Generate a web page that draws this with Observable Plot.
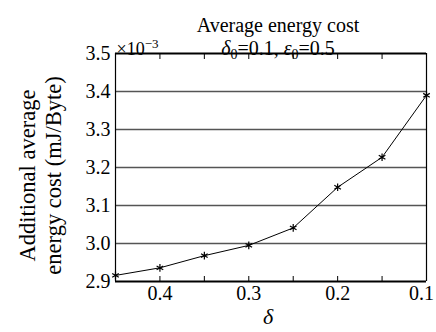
<!DOCTYPE html>
<html>
<head>
<meta charset="utf-8">
<script src="https://cdn.jsdelivr.net/npm/d3@7"></script>
<script src="https://cdn.jsdelivr.net/npm/@observablehq/plot@0.6"></script>
<style>
  html, body { margin: 0; padding: 0; background: #fff; }
</style>
</head>
<body>
<div id="chart"></div>
<script>
const delta = [0.45, 0.4, 0.35, 0.3, 0.25, 0.2, 0.15, 0.1];
const cost = [2.916, 2.936, 2.968, 2.995, 3.041, 3.148, 3.227, 3.39];
const yTicks = [2.9, 3.0, 3.1, 3.2, 3.3, 3.4, 3.5];
const xLabelTicks = [0.4, 0.3, 0.2];
const xLastTick = [0.1];
const xMinorTicks = [0.45, 0.4, 0.35, 0.3, 0.25, 0.2, 0.15, 0.1];
const titleLine1 = "Average energy cost";
const titleLine2 = "δ0=0.1, ε0=0.5";
const yLabel = "Additional average\nenergy cost (mJ/Byte)";
const xLabel = "δ";
const scaleNote = "×10-3";

const data = delta.map((d, i) => ({delta: d, cost: cost[i]}));
const FF = "Liberation Serif";

const chart = Plot.plot({
  width: 436,
  height: 332,
  marginLeft: 115,
  marginRight: 10,
  marginTop: 53,
  marginBottom: 51,
  style: {fontFamily: FF, fontSize: "20px", background: "#fff", color: "#000"},
  x: {domain: [0.45, 0.1]},
  y: {domain: [2.9, 3.5]},
  marks: [
    Plot.ruleY(yTicks.slice(1, -1), {stroke: "#555", strokeWidth: 1.5}),
    Plot.axisY({ticks: yTicks, tickFormat: d3.format(".1f"), tickSize: 0, tickPadding: 5, label: null, fontFamily: FF}),
    Plot.axisX({ticks: xLabelTicks, tickFormat: d3.format(".1f"), tickSize: 0, tickPadding: 4, label: null, fontFamily: FF}),
    Plot.axisX({ticks: xLastTick, tickFormat: d3.format(".1f"), tickSize: 0, tickPadding: 4, label: null, fontFamily: FF, dx: -5}),
    Plot.axisX({anchor: "bottom", ticks: xMinorTicks, tickSize: -5, tickFormat: () => "", label: null, stroke: "#000"}),
    Plot.axisX({anchor: "top", ticks: xMinorTicks, tickSize: -5, tickFormat: () => "", label: null, stroke: "#000"}),
    Plot.ruleY([2.9], {stroke: "#000", strokeWidth: 2}),
    Plot.ruleY([3.5], {stroke: "#000", strokeWidth: 2}),
    Plot.ruleX([0.45, 0.1], {stroke: "#000", strokeWidth: 1.2}),
    Plot.line(data, {x: "delta", y: "cost", stroke: "#000", strokeWidth: 1}),
    Plot.dot(data, {x: "delta", y: "cost", symbol: "asterisk", r: 3.6, stroke: "#000", strokeWidth: 1.2}),
    Plot.text([titleLine1], {frameAnchor: "top", dx: 7, dy: -36, fontSize: 20, fontFamily: FF, className: "t1"}),
    Plot.text([titleLine2], {frameAnchor: "top", dx: 7, dy: -13, fontSize: 20, fontFamily: FF, className: "t2"}),
    Plot.text([scaleNote], {frameAnchor: "top-left", textAnchor: "start", dx: 1, dy: -11, fontSize: 18, fontFamily: FF, className: "sn"}),
    Plot.text([yLabel], {frameAnchor: "left", textAnchor: "middle", lineAnchor: "middle", rotate: -90, dx: -76, dy: 8, fontSize: 22.5, lineHeight: 1.15, fontFamily: FF}),
    Plot.text([xLabel], {frameAnchor: "bottom", dx: -3, dy: 42, fontSize: 22, fontStyle: "italic", fontFamily: FF})
  ]
});
document.getElementById("chart").appendChild(chart);

const svg = d3.select(chart);
svg.attr("font-family", FF);
svg.selectAll("text").attr("font-family", FF);

// Rich formatting: italics, subscripts, superscript
const t2 = svg.select(".t2 text");
if (!t2.empty()) {
  t2.text("");
  const parts = [["δ", "i", 0], ["0", "sub", 4], ["=0.1, ", "", -4], ["ε", "i", 0], ["0", "sub", 4], ["=0.5", "", -4]];
  for (const [s, k, dy] of parts) {
    const ts = t2.append("tspan").text(s);
    if (k === "i") ts.attr("font-style", "italic");
    if (k === "sub") ts.attr("font-size", 14);
    if (dy) ts.attr("dy", dy);
  }
}
const sn = svg.select(".sn text");
if (!sn.empty()) {
  sn.text("");
  sn.append("tspan").text("×10");
  sn.append("tspan").text("−3").attr("font-size", 13).attr("dy", "-7");
}
</script>
</body>
</html>
